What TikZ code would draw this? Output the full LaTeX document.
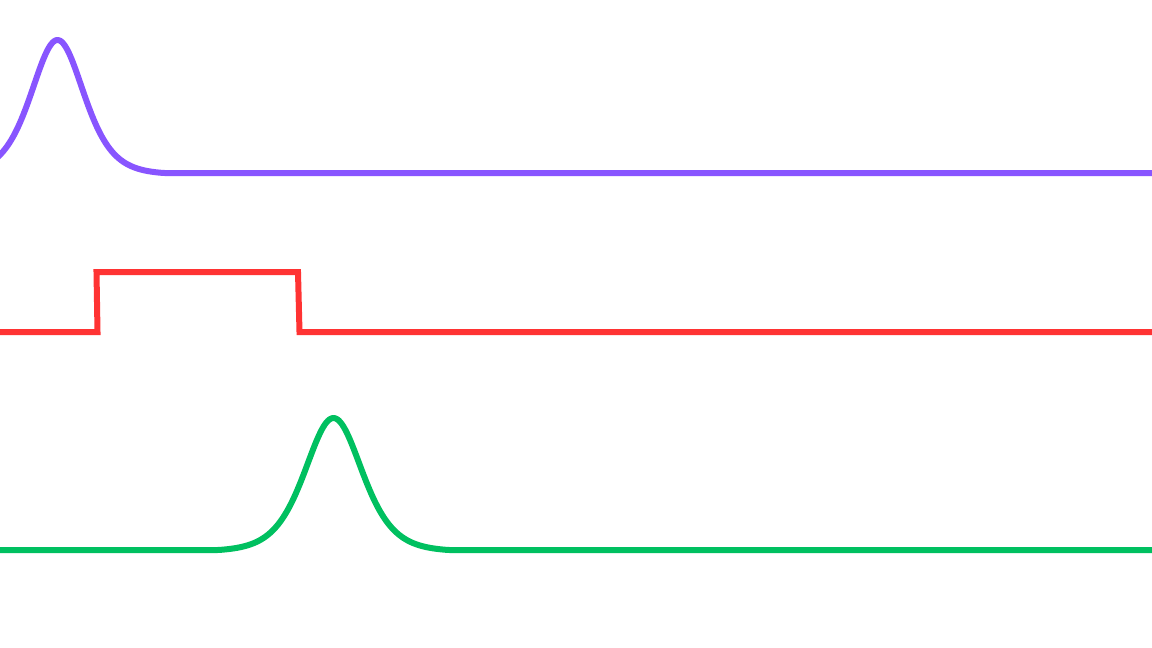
\documentclass[tikz,border=0pt]{standalone}
\usepackage{tikz}
\definecolor{wavepurple}{HTML}{8855FF}
\definecolor{wavered}{HTML}{FF3333}
\definecolor{wavegreen}{HTML}{00C060}
\tikzset{wave/.style={line width=6pt, line join=round}}
\pgfmathdeclarefunction{pulse}{1}{\pgfmathparse{max(0,(4/(exp(#1)+exp(-#1))^2-0.01)/0.99)}}
\begin{document}
\begin{tikzpicture}[x=1pt,y=-1pt]
\useasboundingbox[fill=white] (0,0) rectangle (1152,648);
\clip (0,0) rectangle (1152,648);
% purple pulse
\draw[wave, wavepurple]
  plot[domain=-5:220, samples=180, smooth] (\x, {173-133*pulse((\x-57.5)/35.5)})
  -- (1160,173);
% red rectangle
\draw[wave, wavered, line join=miter]
  (-5,332) -- (97.5,332) -- (96.5,272) -- (298,272) -- (299.5,332) -- (1160,332);
% green pulse
\draw[wave, wavegreen]
  (-5,550) -- (180,550)
  -- plot[domain=180:490, samples=200, smooth] (\x, {550-132*pulse((\x-333.5)/38.5)})
  -- (1160,550);
\end{tikzpicture}
\end{document}
